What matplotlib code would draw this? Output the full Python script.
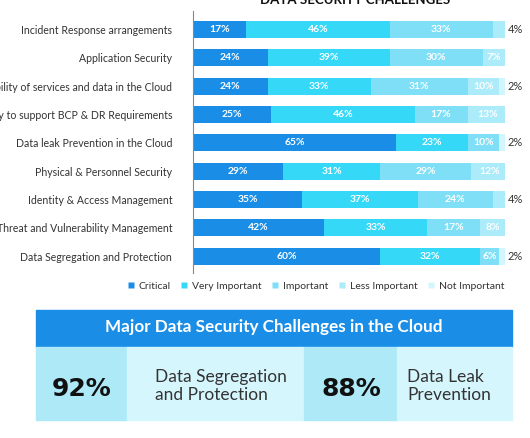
import numpy as np
import matplotlib.pyplot as plt
from matplotlib.patches import Rectangle
from matplotlib.lines import Line2D

plt.rcParams['font.family'] = ['Lato', 'DejaVu Sans']

# categories (top to bottom)
challenges = ['Incident Response arrangements', 'Application Security',
              'Availability of services and data in the Cloud',
              'Ability to support BCP & DR Requirements',
              'Data leak Prevention in the Cloud', 'Physical & Personnel Security',
              'Identity & Access Management', 'Threat and Vulnerability Management',
              'Data Segregation and Protection']
levels = ['Critical', 'Very Important', 'Important', 'Less Important', 'Not Important']
critical = [17, 24, 24, 25, 65, 29, 35, 42, 60]
very_important = [46, 39, 33, 46, 23, 31, 37, 33, 32]
important = [33, 30, 31, 17, 10, 29, 24, 17, 6]
less_important = [4, 7, 10, 13, 0, 12, 4, 8, 0]
not_important = [0, 0, 2, 0, 2, 0, 0, 0, 2]
colors = ['#1a8ee6', '#36d8f8', '#7fdff6', '#abebfa', '#d3f6fd']

# summary box
top_pcts = ['92%', '88%']
top_names = ['Data Segregation\nand Protection', 'Data Leak\nPrevention']

W, H = 530, 438
fig = plt.figure(figsize=(W / 100, H / 100), dpi=100)

def fx(px):
    return px / W

def fy(py):
    return 1 - py / H

ax = fig.add_axes([fx(193), fy(273), fx(505) - fx(193), fy(11) - fy(273)])
series = [critical, very_important, important, less_important, not_important]
y = np.arange(len(challenges))
left = np.zeros(len(challenges))
for vals, col, name in zip(series, colors, levels):
    vals = np.array(vals, dtype=float)
    ax.barh(y, vals, left=left, height=0.6, color=col, label=name, linewidth=0)
    for i, v in enumerate(vals):
        if v == 0:
            continue
        if v >= 6:
            ax.text(left[i] + v / 2, y[i], f'{int(v)}%', ha='center', va='center',
                    color='white', fontsize=7.5, fontweight='bold')
        else:
            ax.text(100.8, y[i], f'{int(v)}%', ha='left', va='center',
                    color='#333333', fontsize=8, clip_on=False)
    left += vals

ax.set_xlim(0, 100)
ax.set_ylim(8.6, -0.654)
ax.set_yticks(y)
ax.set_yticklabels(challenges, fontsize=7.6, color='#333333')
ax.tick_params(axis='y', length=0, pad=15)
ax.set_xticks([])
for s in ['top', 'right', 'bottom']:
    ax.spines[s].set_visible(False)
ax.spines['left'].set_color('#888888')
ax.spines['left'].set_linewidth(0.8)

fig.text(fx(355), fy(4), 'DATA SECURITY CHALLENGES', ha='center', va='baseline',
         fontsize=9.5, fontweight='bold', color='#111111')

handles = [Line2D([0], [0], marker='s', color='none', markerfacecolor=c,
                  markeredgecolor='none', markersize=5) for c in colors]
fig.legend(handles, levels, loc='center left', bbox_to_anchor=(fx(117), fy(286)),
           ncol=5, frameon=False, fontsize=7.5, handlelength=0.8,
           handletextpad=0.4, columnspacing=0.85, labelcolor='#333333')

# summary panel
def box(x0, y0, x1, y1, col):
    fig.patches.append(Rectangle((fx(x0), fy(y1)), fx(x1) - fx(x0), fy(y0) - fy(y1),
                                 transform=fig.transFigure, color=col, zorder=0))

box(36, 310, 512, 347, '#1a8ee6')
box(36, 347, 127, 420, '#aee9f8')
box(127, 347, 304, 420, '#d6f6fd')
box(304, 347, 397, 420, '#aee9f8')
box(397, 347, 512, 420, '#d6f6fd')
fig.text(fx(274), fy(327), 'Major Data Security Challenges in the Cloud', ha='center',
         va='center', fontsize=12.3, fontweight='bold', color='white')
for pct, name, xp, xn in zip(top_pcts, top_names, [82, 351], [155, 407]):
    fig.text(fx(xp), fy(389), pct, ha='center', va='center', fontsize=18,
             fontweight='bold', color='#111111', family='DejaVu Sans')
    fig.text(fx(xn), fy(386), name, ha='left', va='center', fontsize=12.5,
             color='#333333', linespacing=1.1)

fig.savefig('out.png', dpi=100)
